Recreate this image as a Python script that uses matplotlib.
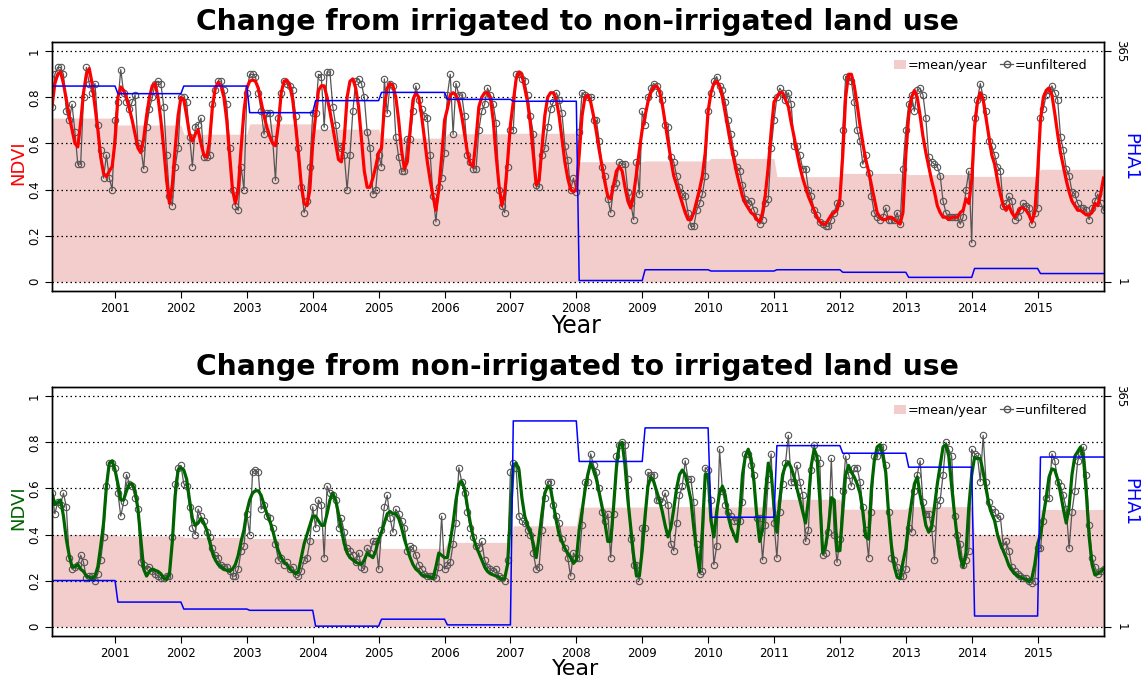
import numpy as np
import matplotlib
matplotlib.use('Agg')
import matplotlib.pyplot as plt
from matplotlib.patches import Patch
from matplotlib.lines import Line2D

years = list(range(2000, 2016))
per_year = 23  # 16-day composites

# --- panel 1: irrigated -> non-irrigated (one row per year) ---
top_raw = [
    [0.76, 0.90, 0.93, 0.93, 0.90, 0.74, 0.70, 0.77, 0.65, 0.51, 0.51, 0.80, 0.93, 0.86, 0.82, 0.86, 0.68, 0.57, 0.45, 0.55, 0.45, 0.40, 0.70],
    [0.78, 0.92, 0.82, 0.78, 0.75, 0.78, 0.81, 0.60, 0.58, 0.49, 0.67, 0.75, 0.80, 0.86, 0.87, 0.86, 0.76, 0.55, 0.37, 0.33, 0.50, 0.58, 0.80],
    [0.80, 0.78, 0.63, 0.50, 0.67, 0.68, 0.71, 0.54, 0.54, 0.55, 0.77, 0.83, 0.87, 0.87, 0.83, 0.77, 0.58, 0.40, 0.33, 0.31, 0.50, 0.40, 0.82],
    [0.90, 0.90, 0.89, 0.82, 0.74, 0.64, 0.73, 0.73, 0.62, 0.44, 0.71, 0.82, 0.87, 0.86, 0.85, 0.83, 0.72, 0.58, 0.41, 0.30, 0.35, 0.50, 0.73],
    [0.73, 0.90, 0.89, 0.67, 0.91, 0.91, 0.76, 0.68, 0.59, 0.58, 0.55, 0.40, 0.55, 0.74, 0.87, 0.88, 0.86, 0.80, 0.65, 0.58, 0.38, 0.40, 0.55],
    [0.50, 0.88, 0.73, 0.86, 0.85, 0.63, 0.54, 0.48, 0.48, 0.62, 0.62, 0.74, 0.85, 0.79, 0.75, 0.72, 0.71, 0.55, 0.37, 0.26, 0.41, 0.45, 0.56],
    [0.81, 0.90, 0.64, 0.86, 0.81, 0.81, 0.72, 0.55, 0.52, 0.49, 0.49, 0.66, 0.74, 0.77, 0.84, 0.81, 0.77, 0.69, 0.40, 0.33, 0.30, 0.50, 0.66],
    [0.66, 0.90, 0.90, 0.88, 0.87, 0.81, 0.72, 0.64, 0.42, 0.41, 0.55, 0.58, 0.67, 0.75, 0.78, 0.82, 0.79, 0.73, 0.59, 0.53, 0.40, 0.45, 0.39],
    [0.65, 0.82, 0.81, 0.80, 0.80, 0.70, 0.70, 0.61, 0.50, 0.46, 0.36, 0.30, 0.41, 0.43, 0.52, 0.51, 0.51, 0.39, 0.34, 0.27, 0.52, 0.38, 0.74],
    [0.68, 0.80, 0.84, 0.86, 0.85, 0.82, 0.79, 0.68, 0.67, 0.54, 0.52, 0.46, 0.41, 0.38, 0.37, 0.30, 0.24, 0.24, 0.31, 0.34, 0.38, 0.46, 0.74],
    [0.82, 0.87, 0.89, 0.85, 0.83, 0.78, 0.70, 0.64, 0.56, 0.50, 0.48, 0.42, 0.36, 0.34, 0.35, 0.31, 0.28, 0.25, 0.27, 0.34, 0.36, 0.58, 0.70],
    [0.80, 0.84, 0.82, 0.79, 0.82, 0.77, 0.59, 0.59, 0.55, 0.49, 0.49, 0.40, 0.37, 0.31, 0.29, 0.26, 0.25, 0.24, 0.24, 0.27, 0.30, 0.34, 0.34],
    [0.66, 0.89, 0.89, 0.87, 0.78, 0.66, 0.61, 0.51, 0.55, 0.47, 0.37, 0.30, 0.28, 0.27, 0.28, 0.32, 0.27, 0.27, 0.27, 0.30, 0.25, 0.49, 0.66],
    [0.77, 0.81, 0.74, 0.83, 0.84, 0.81, 0.71, 0.54, 0.52, 0.51, 0.50, 0.46, 0.35, 0.30, 0.28, 0.28, 0.28, 0.28, 0.25, 0.28, 0.40, 0.48, 0.17],
    [0.71, 0.79, 0.86, 0.80, 0.74, 0.61, 0.59, 0.55, 0.50, 0.48, 0.33, 0.34, 0.37, 0.35, 0.27, 0.28, 0.31, 0.34, 0.33, 0.32, 0.25, 0.30, 0.32],
    [0.71, 0.75, 0.81, 0.83, 0.85, 0.82, 0.79, 0.63, 0.57, 0.49, 0.46, 0.39, 0.38, 0.34, 0.32, 0.32, 0.31, 0.27, 0.32, 0.35, 0.38, 0.34, 0.31],
]
top_smooth = [
    [0.76, 0.86, 0.90, 0.91, 0.86, 0.79, 0.72, 0.66, 0.60, 0.585, 0.69, 0.82, 0.90, 0.925, 0.86, 0.76, 0.66, 0.54, 0.47, 0.456, 0.48, 0.50, 0.61],
    [0.80, 0.845, 0.83, 0.80, 0.75, 0.70, 0.64, 0.58, 0.56, 0.62, 0.72, 0.80, 0.85, 0.86, 0.80, 0.70, 0.58, 0.44, 0.34, 0.42, 0.58, 0.72, 0.80],
    [0.79, 0.72, 0.64, 0.61, 0.64, 0.66, 0.60, 0.55, 0.54, 0.61, 0.76, 0.84, 0.865, 0.85, 0.80, 0.70, 0.55, 0.40, 0.34, 0.40, 0.58, 0.74, 0.84],
    [0.87, 0.875, 0.87, 0.84, 0.78, 0.72, 0.67, 0.63, 0.60, 0.59, 0.68, 0.82, 0.87, 0.875, 0.85, 0.79, 0.68, 0.56, 0.42, 0.34, 0.33, 0.40, 0.60],
    [0.72, 0.83, 0.85, 0.85, 0.80, 0.74, 0.67, 0.60, 0.53, 0.52, 0.62, 0.80, 0.87, 0.88, 0.84, 0.76, 0.62, 0.48, 0.41, 0.41, 0.45, 0.50, 0.56],
    [0.58, 0.76, 0.84, 0.86, 0.85, 0.80, 0.70, 0.57, 0.49, 0.52, 0.66, 0.79, 0.82, 0.80, 0.72, 0.62, 0.52, 0.44, 0.37, 0.31, 0.40, 0.54, 0.70],
    [0.75, 0.81, 0.82, 0.81, 0.78, 0.72, 0.64, 0.56, 0.51, 0.50, 0.62, 0.76, 0.80, 0.82, 0.82, 0.80, 0.70, 0.55, 0.42, 0.33, 0.38, 0.52, 0.68],
    [0.78, 0.88, 0.91, 0.90, 0.84, 0.78, 0.68, 0.55, 0.42, 0.44, 0.58, 0.72, 0.80, 0.82, 0.82, 0.79, 0.72, 0.62, 0.52, 0.45, 0.40, 0.39, 0.40],
    [0.55, 0.72, 0.80, 0.81, 0.78, 0.72, 0.65, 0.57, 0.50, 0.43, 0.37, 0.36, 0.42, 0.48, 0.50, 0.48, 0.41, 0.35, 0.32, 0.38, 0.47, 0.57, 0.66],
    [0.72, 0.78, 0.82, 0.845, 0.85, 0.83, 0.77, 0.69, 0.61, 0.53, 0.46, 0.42, 0.38, 0.34, 0.30, 0.27, 0.27, 0.30, 0.35, 0.40, 0.46, 0.56, 0.74],
    [0.82, 0.86, 0.87, 0.85, 0.80, 0.73, 0.66, 0.59, 0.53, 0.47, 0.42, 0.37, 0.34, 0.32, 0.30, 0.29, 0.27, 0.26, 0.30, 0.38, 0.50, 0.65, 0.78],
    [0.80, 0.82, 0.82, 0.79, 0.76, 0.69, 0.63, 0.56, 0.50, 0.45, 0.41, 0.37, 0.34, 0.31, 0.28, 0.26, 0.25, 0.25, 0.27, 0.29, 0.30, 0.31, 0.36],
    [0.55, 0.80, 0.90, 0.90, 0.85, 0.77, 0.68, 0.60, 0.53, 0.48, 0.42, 0.36, 0.30, 0.28, 0.27, 0.27, 0.28, 0.28, 0.27, 0.26, 0.25, 0.30, 0.55],
    [0.72, 0.80, 0.83, 0.80, 0.72, 0.63, 0.56, 0.50, 0.44, 0.39, 0.33, 0.30, 0.28, 0.28, 0.27, 0.28, 0.28, 0.28, 0.30, 0.31, 0.36, 0.34, 0.44],
    [0.67, 0.78, 0.82, 0.79, 0.71, 0.63, 0.55, 0.51, 0.44, 0.38, 0.33, 0.31, 0.33, 0.30, 0.28, 0.30, 0.32, 0.32, 0.31, 0.29, 0.26, 0.30, 0.47],
    [0.70, 0.80, 0.83, 0.84, 0.81, 0.73, 0.64, 0.56, 0.50, 0.44, 0.39, 0.35, 0.33, 0.31, 0.31, 0.30, 0.29, 0.29, 0.30, 0.34, 0.33, 0.38, 0.45],
]
top_mean = [0.71, 0.68, 0.64, 0.685, 0.662, 0.623, 0.642, 0.644,
            0.521, 0.524, 0.535, 0.456, 0.47, 0.465, 0.457, 0.488]
top_pha = [310, 298, 310, 268, 287, 300, 289, 286, 3, 20, 18, 20, 16, 8, 22, 14]

# --- panel 2: non-irrigated -> irrigated ---
bot_raw = [
    [0.58, 0.49, 0.54, 0.53, 0.58, 0.52, 0.30, 0.25, 0.26, 0.27, 0.31, 0.28, 0.21, 0.22, 0.22, 0.20, 0.23, 0.29, 0.39, 0.61, 0.71, 0.71, 0.69],
    [0.58, 0.48, 0.54, 0.66, 0.62, 0.61, 0.56, 0.51, 0.28, 0.27, 0.25, 0.26, 0.24, 0.23, 0.22, 0.21, 0.21, 0.22, 0.22, 0.39, 0.62, 0.69, 0.70],
    [0.62, 0.61, 0.52, 0.43, 0.40, 0.51, 0.48, 0.46, 0.41, 0.39, 0.34, 0.31, 0.30, 0.27, 0.26, 0.26, 0.24, 0.22, 0.22, 0.25, 0.33, 0.35, 0.49],
    [0.40, 0.67, 0.68, 0.67, 0.51, 0.53, 0.48, 0.47, 0.43, 0.36, 0.29, 0.30, 0.27, 0.28, 0.25, 0.26, 0.23, 0.22, 0.24, 0.29, 0.30, 0.37, 0.52],
    [0.43, 0.55, 0.53, 0.30, 0.61, 0.58, 0.57, 0.55, 0.43, 0.47, 0.41, 0.34, 0.33, 0.31, 0.28, 0.32, 0.26, 0.25, 0.34, 0.32, 0.37, 0.37, 0.25],
    [0.42, 0.52, 0.57, 0.47, 0.41, 0.51, 0.49, 0.46, 0.43, 0.33, 0.35, 0.34, 0.31, 0.27, 0.25, 0.23, 0.22, 0.22, 0.22, 0.21, 0.26, 0.48, 0.25],
    [0.27, 0.28, 0.36, 0.45, 0.69, 0.63, 0.58, 0.50, 0.43, 0.39, 0.35, 0.34, 0.37, 0.29, 0.26, 0.25, 0.24, 0.25, 0.22, 0.21, 0.20, 0.29, 0.67],
    [0.71, 0.69, 0.48, 0.46, 0.45, 0.42, 0.40, 0.32, 0.25, 0.26, 0.42, 0.56, 0.63, 0.63, 0.53, 0.48, 0.45, 0.38, 0.34, 0.30, 0.22, 0.32, 0.30],
    [0.30, 0.44, 0.63, 0.63, 0.75, 0.70, 0.67, 0.60, 0.50, 0.46, 0.49, 0.30, 0.49, 0.74, 0.79, 0.80, 0.79, 0.64, 0.38, 0.27, 0.27, 0.20, 0.43],
    [0.43, 0.67, 0.66, 0.66, 0.55, 0.55, 0.54, 0.58, 0.53, 0.36, 0.33, 0.45, 0.57, 0.61, 0.72, 0.64, 0.64, 0.54, 0.36, 0.23, 0.24, 0.69, 0.68],
    [0.55, 0.27, 0.35, 0.77, 0.59, 0.53, 0.50, 0.48, 0.46, 0.46, 0.46, 0.54, 0.75, 0.75, 0.70, 0.66, 0.47, 0.47, 0.29, 0.44, 0.64, 0.75, 0.45],
    [0.30, 0.50, 0.62, 0.71, 0.83, 0.63, 0.63, 0.70, 0.63, 0.57, 0.37, 0.42, 0.68, 0.79, 0.73, 0.71, 0.31, 0.32, 0.41, 0.73, 0.40, 0.28, 0.38],
    [0.59, 0.74, 0.66, 0.61, 0.69, 0.69, 0.63, 0.52, 0.42, 0.30, 0.50, 0.74, 0.74, 0.78, 0.78, 0.70, 0.50, 0.30, 0.29, 0.26, 0.22, 0.22, 0.25],
    [0.43, 0.41, 0.59, 0.66, 0.72, 0.54, 0.49, 0.49, 0.43, 0.29, 0.53, 0.55, 0.66, 0.80, 0.77, 0.74, 0.48, 0.40, 0.36, 0.27, 0.29, 0.33, 0.77],
    [0.75, 0.74, 0.63, 0.83, 0.63, 0.54, 0.51, 0.50, 0.47, 0.48, 0.35, 0.37, 0.33, 0.26, 0.24, 0.23, 0.22, 0.21, 0.21, 0.20, 0.19, 0.20, 0.34],
    [0.34, 0.46, 0.56, 0.56, 0.75, 0.72, 0.63, 0.61, 0.57, 0.51, 0.34, 0.50, 0.59, 0.72, 0.75, 0.78, 0.66, 0.44, 0.30, 0.26, 0.23, 0.24, 0.25],
]
bot_smooth = [
    [0.58, 0.53, 0.54, 0.55, 0.48, 0.38, 0.31, 0.26, 0.26, 0.27, 0.25, 0.24, 0.22, 0.215, 0.21, 0.22, 0.26, 0.35, 0.45, 0.61, 0.71, 0.72, 0.68],
    [0.62, 0.55, 0.55, 0.59, 0.62, 0.62, 0.59, 0.51, 0.38, 0.25, 0.22, 0.24, 0.25, 0.245, 0.24, 0.23, 0.21, 0.205, 0.23, 0.37, 0.57, 0.68, 0.69],
    [0.68, 0.64, 0.55, 0.47, 0.44, 0.45, 0.47, 0.45, 0.42, 0.37, 0.32, 0.29, 0.27, 0.26, 0.25, 0.245, 0.24, 0.25, 0.27, 0.31, 0.37, 0.42, 0.50],
    [0.55, 0.58, 0.59, 0.59, 0.57, 0.53, 0.49, 0.46, 0.42, 0.37, 0.33, 0.30, 0.28, 0.27, 0.25, 0.24, 0.23, 0.24, 0.30, 0.36, 0.40, 0.44, 0.48],
    [0.48, 0.46, 0.44, 0.44, 0.49, 0.55, 0.58, 0.55, 0.49, 0.42, 0.36, 0.32, 0.30, 0.29, 0.28, 0.275, 0.27, 0.29, 0.32, 0.31, 0.30, 0.33, 0.38],
    [0.41, 0.45, 0.49, 0.50, 0.49, 0.49, 0.47, 0.43, 0.38, 0.34, 0.30, 0.27, 0.25, 0.24, 0.225, 0.22, 0.22, 0.215, 0.21, 0.26, 0.32, 0.31, 0.30],
    [0.30, 0.37, 0.45, 0.55, 0.62, 0.63, 0.60, 0.52, 0.45, 0.39, 0.35, 0.32, 0.29, 0.26, 0.24, 0.23, 0.225, 0.22, 0.215, 0.205, 0.21, 0.27, 0.48],
    [0.70, 0.71, 0.68, 0.56, 0.48, 0.44, 0.41, 0.36, 0.30, 0.39, 0.49, 0.58, 0.61, 0.60, 0.53, 0.46, 0.40, 0.37, 0.34, 0.32, 0.30, 0.275, 0.29],
    [0.42, 0.50, 0.59, 0.66, 0.71, 0.68, 0.64, 0.58, 0.52, 0.45, 0.37, 0.37, 0.52, 0.69, 0.79, 0.80, 0.70, 0.55, 0.43, 0.31, 0.22, 0.22, 0.33],
    [0.48, 0.61, 0.65, 0.63, 0.59, 0.55, 0.50, 0.44, 0.39, 0.43, 0.51, 0.60, 0.66, 0.68, 0.66, 0.61, 0.55, 0.43, 0.33, 0.24, 0.42, 0.66, 0.66],
    [0.46, 0.39, 0.50, 0.58, 0.61, 0.57, 0.48, 0.43, 0.40, 0.37, 0.48, 0.66, 0.74, 0.77, 0.73, 0.63, 0.48, 0.37, 0.42, 0.58, 0.71, 0.67, 0.52],
    [0.41, 0.55, 0.66, 0.70, 0.715, 0.69, 0.65, 0.60, 0.55, 0.50, 0.45, 0.55, 0.70, 0.77, 0.74, 0.55, 0.32, 0.35, 0.43, 0.56, 0.55, 0.33, 0.33],
    [0.50, 0.66, 0.70, 0.67, 0.65, 0.62, 0.58, 0.50, 0.39, 0.38, 0.60, 0.72, 0.78, 0.79, 0.74, 0.67, 0.49, 0.35, 0.26, 0.215, 0.21, 0.28, 0.34],
    [0.45, 0.54, 0.62, 0.65, 0.57, 0.51, 0.44, 0.41, 0.43, 0.52, 0.62, 0.70, 0.78, 0.79, 0.74, 0.61, 0.49, 0.38, 0.30, 0.26, 0.32, 0.52, 0.66],
    [0.735, 0.73, 0.73, 0.67, 0.60, 0.53, 0.49, 0.46, 0.40, 0.36, 0.33, 0.30, 0.265, 0.245, 0.23, 0.22, 0.215, 0.21, 0.205, 0.195, 0.21, 0.27, 0.36],
    [0.40, 0.48, 0.56, 0.65, 0.685, 0.68, 0.64, 0.58, 0.51, 0.45, 0.52, 0.66, 0.74, 0.76, 0.78, 0.73, 0.58, 0.39, 0.27, 0.225, 0.23, 0.24, 0.25],
]
bot_mean = [0.40, 0.394, 0.388, 0.383, 0.383, 0.340, 0.366, 0.438,
            0.519, 0.521, 0.52, 0.553, 0.510, 0.521, 0.40, 0.509]
bot_pha = [74, 40, 29, 27, 2, 13, 4, 326, 262, 315, 174, 287, 275, 253, 18, 269]

t = 2000 + np.arange(1, len(years) * per_year + 1) / per_year
W, H = 1146, 679
fig = plt.figure(figsize=(W / 100, H / 100), dpi=100)


def panel(top_px, raw, smooth, mean, pha, col, title, year_base, year_size):
    bottom_px = top_px + 249
    ax = fig.add_axes([52 / W, 1 - bottom_px / H, 1051.5 / W, 249 / H])
    ax.fill_between(t, 0, np.repeat(mean, per_year), color='#f3cccc', lw=0, zorder=1)
    for g in np.arange(0, 1.01, 0.2):
        ax.axhline(g, color='black', ls=(0, (1.2, 2.4)), lw=0.9, zorder=2)
    ax.plot(t, np.ravel(raw), color='#555555', lw=0.9, marker='o', ms=4.6,
            mfc='none', mec='#555555', mew=0.8, zorder=3)
    ax.plot(t, np.ravel(smooth), color=col, lw=2.3, zorder=4)
    ax.set_xlim(t[0], t[-1])
    ax.set_ylim(-0.04, 1.04)
    ax.set_xticks(years[1:])
    ax.set_xticklabels([str(y) for y in years[1:]], fontsize=8.5)
    ax.set_yticks([0, 0.2, 0.4, 0.6, 0.8, 1])
    ax.set_yticklabels(['0', '0.2', '0.4', '0.6', '0.8', '1'], rotation=90,
                       va='center', fontsize=8.5)
    ax.tick_params(direction='out', length=5, width=0.8, pad=3)

    ax2 = ax.twinx()
    ax2.plot(t, np.repeat(pha, per_year), color='#0000ff', lw=1.1)
    ax2.set_ylim(1 - 0.04 * 364, 365 + 0.04 * 364)
    ax2.set_yticks([1, 365])
    ax2.set_yticklabels(['1', '365'], rotation=-90, va='center', fontsize=8.5)
    ax2.tick_params(direction='out', length=5, width=0.8, pad=3)
    for a in (ax, ax2):
        for s in a.spines.values():
            s.set_linewidth(1.0)

    handles = [Patch(facecolor='#f3cccc', edgecolor='none'),
               Line2D([], [], color='#555555', lw=0.9, marker='o', ms=4.6,
                      mfc='none', mec='#555555')]
    ax2.legend(handles, ['=mean/year', '=unfiltered'], loc='upper right',
               ncol=2, frameon=False, fontsize=9.2, handlelength=1.0,
               handletextpad=0.1, columnspacing=1.0, borderaxespad=0.9)

    fig.text(577 / W, 1 - (top_px - 20) / H, title, ha='center', va='center',
             fontsize=20.3, fontweight='bold')
    fig.text(576 / W, 1 - year_base / H, 'Year', ha='center',
             va='baseline', fontsize=year_size)
    fig.text(18 / W, 1 - (top_px + 121) / H, 'NDVI', rotation=90, ha='center',
             va='center', color=col, fontsize=13)
    fig.text(1130 / W, 1 - (top_px + 115) / H, 'PHA1', rotation=-90,
             ha='center', va='center', color='blue', fontsize=13)


panel(42, top_raw, top_smooth, top_mean, top_pha, 'red',
      'Change from irrigated to non-irrigated land use', 333, 17)
panel(387, bot_raw, bot_smooth, bot_mean, bot_pha, '#006400',
      'Change from non-irrigated to irrigated land use', 675, 16)

fig.savefig('out.png', dpi=100)
